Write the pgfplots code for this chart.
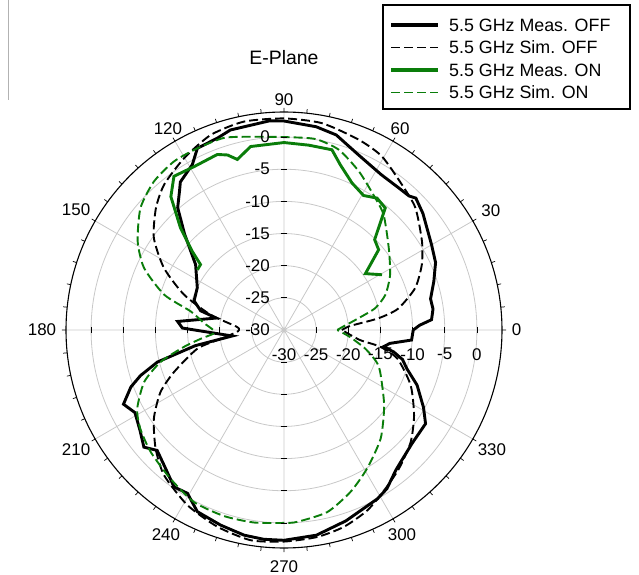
\documentclass[border=0pt]{standalone}
\usepackage{fontspec}
\setmainfont{Liberation Sans}
\usepackage{pgfplots}
\pgfplotsset{compat=1.18}
\usepackage{pgfplotstable}
\usepgfplotslibrary{polar}
\usetikzlibrary{calc}
\definecolor{grn}{RGB}{10,125,10}
\definecolor{gridgray}{RGB}{200,200,200}
\newcommand{\tickfont}{\fontsize{17}{20}\selectfont}

% angle (deg), level (dB)
\pgfplotstableread{
a db
0 -9.9
2 -8.9
4 -7.0
8 -6.6
12 -6.7
18 -5.5
24 -4.2
30 -3.5
40 -1.8
45 -1.0
47 -1.5
51 -1.6
58 -1.5
67 -0.4
75 1.4
81 2.0
90 2.5
94 2.6
105 2.2
109 1.6
115.5 1.3
119 -0.6
125 -1.9
127 -3.0
131 -4.8
136 -8.5
143.5 -12.9
154 -15.0
162 -15.3
167 -16.7
170 -19.3
175.4 -13.4
178.9 -14.2
184.4 -20.6
186.6 -21.9
190 -16.0
192 -13.6
194.2 -9.7
197.6 -6.6
200.4 -4.6
204.8 -2.5
209 -3.5
214.9 -2.7
219.9 -1.6
223.5 -2.8
228.4 -1.9
235 -0.2
239.4 -0.5
244.5 1.3
252 1.9
259 2.5
264.5 2.7
270 2.7
279 2.3
288 1.2
299 0.0
303 -0.6
308.5 -2.1
311.5 -2.6
318.5 -3.4
326.5 -3.6
331 -5.2
337.5 -7.6
342.6 -10.0
346 -11.0
348.7 -12.6
350.5 -14.3
352.8 -13.4
355.5 -10.1
360 -9.9
}\measoff

\pgfplotstableread{
a db
0 -21.0
3.5 -19.7
7 -15.3
10.5 -12.0
17.7 -8.6
25.3 -6.3
32.7 -4.5
42.9 -2.1
50.9 -0.9
60.6 1.0
68.6 1.8
79.6 2.7
90 2.9
100.9 3.0
110.6 2.4
120.2 0.9
129.5 -0.7
136.4 -2.5
144.7 -5.2
152.7 -9.0
160.5 -13.5
168.2 -18.3
176 -22.6
180 -23.0
183 -22.5
188 -20.0
192.2 -16.2
200.9 -11.7
206.7 -8.5
214.3 -5.5
222.8 -2.8
230.5 -0.7
241.1 1.1
251.3 2.3
261 3.1
270 2.9
279.1 2.6
286.9 2.0
294.8 0.9
302 -0.6
309.7 -2.0
318.5 -3.7
326.7 -5.8
336.4 -8.5
345.8 -11.8
350.2 -14.9
352.5 -18.1
360 -21.0
}\simoff

\pgfplotstableread{
a db
29.4 -12.5
34.7 -14.6
40.3 -10.7
44.9 -10.1
50.3 -5.35
54.8 -4.9
59.4 -5.7
65.2 -4.8
71.2 -2.85
75.1 -1.0
82.4 -1.0
90 -0.85
100.3 -1.0
105.3 -2.5
107.9 -1.4
110.8 -0.8
118.8 -1.0
125.6 -0.6
130.3 -2.8
135.4 -7.4
139.4 -11.2
141.9 -13.5
145.2 -13.6
}\meason

\pgfplotstableread{
a db
0 -21.7
2 -21.2
9.1 -18.2
13.5 -15.4
19.2 -13.3
27.5 -11.4
38.1 -9.3
49.2 -6.3
56.5 -4.8
64.8 -2.7
73.1 -0.7
80.7 0.1
90 0.0
99.8 0.5
107.4 1.3
115.5 1.3
123.1 1.3
131.2 0.7
139.6 -0.7
148.8 -3.4
156.1 -6.2
163.6 -10.6
168.7 -15.2
175 -17.5
180 -19.0
183 -19.0
186 -17.0
189.6 -14.2
194.5 -10.2
200.4 -6.8
208.2 -4.1
214.4 -2.9
222.5 -1.9
232.7 -0.9
242.4 0.2
252.1 0.4
261.1 0.3
270 0.0
274 -0.1
283.4 -0.9
292.4 -2.8
301 -4.9
311.7 -7.4
323 -10.5
336 -13.6
341 -14.8
347 -17.0
354 -19.7
360 -21.7
}\simon

\newcommand{\rlab}[2]{%
  \node[font=\tickfont, anchor=north, inner sep=0pt] at ($(axis cs:0,#1)+(0,-18bp)$) {#2};%
  \node[font=\tickfont, anchor=east, inner sep=0pt] at ($(axis cs:90,#1)+(-14bp,0)$) {#2};%
}
\newcommand{\alab}[3]{%
  \node[font=\tickfont, anchor=#2, inner sep=0pt] at (axis cs:#1,#3) {#1};%
}
\tikzset{
  measoffstyle/.style={black, line width=2.9bp},
  simoffstyle/.style={black, line width=1.9bp, dash pattern=on 9bp off 4bp},
  measonstyle/.style={grn, line width=2.9bp},
  simonstyle/.style={grn, line width=1.9bp, dash pattern=on 9bp off 4bp},
}

\begin{document}
\begin{tikzpicture}
\begin{polaraxis}[
  width=436bp, height=436bp, scale only axis,
  xmin=0, xmax=360,
  ymin=0, ymax=33.9,
  xtick={0,30,...,330},
  xticklabels={},
  minor x tick num=4,
  ytick={0,5,...,30},
  yticklabels={},
  grid=major,
  major grid style={draw=gridgray, line width=0.8bp},
  x axis line style={black, line width=1.1bp},
  y axis line style={draw=none},
  x tick style={black, line width=0.7bp},
  y tick style={draw=none},
  major tick length=4bp, minor tick length=4bp,
  tick align=inside,
  clip=false,
]
\coordinate (c) at (axis cs:0,0);
\addplot[measoffstyle] table[x=a, y expr=\thisrow{db}+30] {\measoff};
\addplot[simoffstyle, smooth, tension=0.4] table[x=a, y expr=\thisrow{db}+30] {\simoff};
\addplot[measonstyle] table[x=a, y expr=\thisrow{db}+30] {\meason};
\addplot[simonstyle, smooth, tension=0.4] table[x=a, y expr=\thisrow{db}+30] {\simon};

\pgfplotsinvokeforeach{5,10,...,30}{
  \draw[black, line width=0.8bp] ($(axis cs:0,#1)+(0,-3bp)$) -- ($(axis cs:0,#1)+(0,3bp)$);
  \draw[black, line width=0.8bp] ($(axis cs:180,#1)+(0,-3bp)$) -- ($(axis cs:180,#1)+(0,3bp)$);
  \draw[black, line width=0.8bp] ($(axis cs:90,#1)+(-3bp,0)$) -- ($(axis cs:90,#1)+(3bp,0)$);
  \draw[black, line width=0.8bp] ($(axis cs:270,#1)+(-3bp,0)$) -- ($(axis cs:270,#1)+(3bp,0)$);
}
\rlab{0}{-30}
\rlab{5}{-25}
\rlab{10}{-20}
\rlab{15}{-15}
\rlab{20}{-10}
\rlab{25}{-5}
\rlab{30}{0}
\alab{0}{180}{35.4}
\alab{30}{210}{35.4}
\alab{60}{240}{35.0}
\alab{90}{270}{34.9}
\alab{120}{300}{35.0}
\alab{150}{330}{35.4}
\alab{180}{0}{35.4}
\alab{210}{30}{35.4}
\alab{240}{60}{35.6}
\alab{270}{90}{35.8}
\alab{300}{120}{35.6}
\alab{330}{150}{35.4}
\end{polaraxis}
\node[font=\fontsize{19.5}{23}\selectfont] at ($(c)+(0,272.5bp)$) {E-Plane};
\draw[gray!60, line width=0.8bp] ($(c)+(-276bp,330bp)$) -- ($(c)+(-276bp,230bp)$);
% legend
\draw[black, line width=1.1bp, fill=white] ($(c)+(99bp,221bp)$) rectangle ($(c)+(346bp,325bp)$);
\draw[measoffstyle, line width=3.4bp] ($(c)+(107bp,305bp)$) -- ++(47bp,0);
\draw[simoffstyle] ($(c)+(107bp,282.5bp)$) -- ++(47bp,0);
\draw[measonstyle, line width=3.4bp] ($(c)+(107bp,260bp)$) -- ++(47bp,0);
\draw[simonstyle] ($(c)+(107bp,237.5bp)$) -- ++(47bp,0);
\begin{scope}[every node/.style={font=\fontsize{17.9}{21}\selectfont, anchor=base west, inner sep=0pt}]
\node at ($(c)+(165bp,305bp-6.4bp)$) {5.5 GHz Meas. OFF};
\node at ($(c)+(165bp,282.5bp-6.4bp)$) {5.5 GHz Sim. OFF};
\node at ($(c)+(165bp,260bp-6.4bp)$) {5.5 GHz Meas. ON};
\node at ($(c)+(165bp,237.5bp-6.4bp)$) {5.5 GHz Sim. ON};
\end{scope}
\pgfresetboundingbox
\path ($(c)+(-284bp,-245bp)$) rectangle ($(c)+(355bp,330bp)$);
\end{tikzpicture}
\end{document}
